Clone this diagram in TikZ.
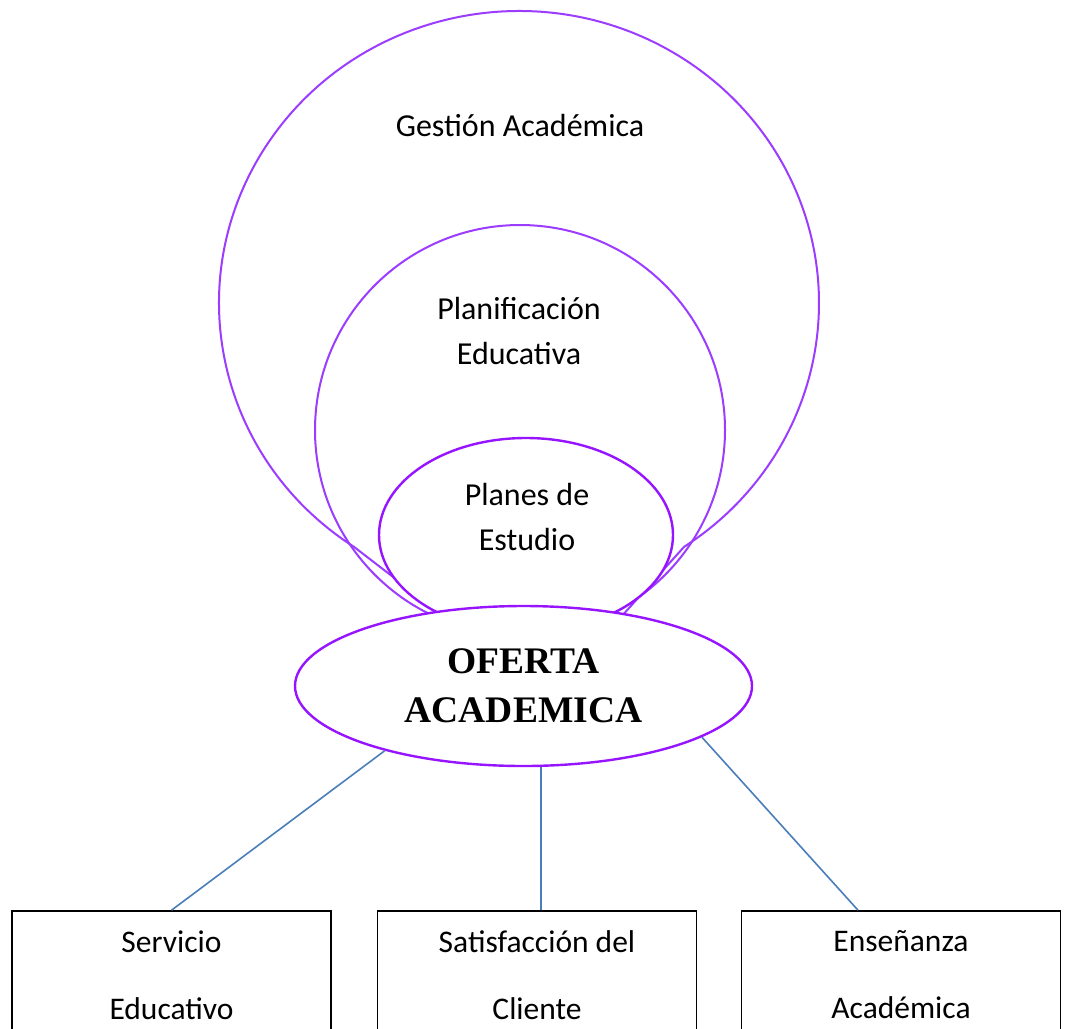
\documentclass[tikz,border=0pt]{standalone}
\usepackage{fontspec}
\setmainfont{Carlito}
\newfontfamily\timesfont{Liberation Serif}
\usetikzlibrary{shapes.geometric}
\definecolor{violetthin}{RGB}{155,60,255}
\definecolor{violetthick}{RGB}{150,20,255}
\definecolor{linkblue}{RGB}{74,126,187}
\tikzset{
  thinring/.style={draw=violetthin, line width=2pt},
  thickring/.style={draw=violetthick, line width=2.4pt},
  lbl/.style={font=\fontsize{32}{45}\selectfont, align=center, inner sep=0pt, anchor=base},
  leaf/.style={draw=black, line width=1.6pt, fill=white, minimum width=319pt, minimum height=128pt,
    inner sep=0pt, align=center, font=\fontsize{31.5}{67}\selectfont},
  link/.style={draw=linkblue, line width=1.6pt}
}
\begin{document}
\begin{tikzpicture}[x=1pt,y=-1pt]
\useasboundingbox (0,0) rectangle (1065,1028);
\clip (0,0) rectangle (1065,1028);
\fill[white] (0,0) rectangle (1065,1028);
% outer callout (Gestion Academica)
\draw[thinring] (519,303) ++(123.4:300 and 292) arc[start angle=123.4, end angle=416.6, x radius=300, y radius=292] -- (549,697) -- cycle;
% middle circle (Planificacion Educativa)
\draw[thinring] (520,430) circle[radius=205];
% Planes de Estudio ellipse
\node[thickring, fill=white, ellipse, minimum width=294pt, minimum height=194pt, inner sep=0pt] (planes) at (526,535) {};
% central ellipse
\node[thickring, fill=white, ellipse, minimum width=457pt, minimum height=160pt, inner sep=0pt,
  align=center, font=\timesfont\bfseries\fontsize{37.5}{49}\selectfont] (oferta) at (523.5,686) {OFERTA\\ACADEMICA};
% labels (anchor = baseline of the last line)
\node[lbl] (gestion) at (520,136) {Gestión Académica};
\node[lbl] (planif) at (519,364) {Planificación\\Educativa};
\node[lbl] (planestxt) at (527,550) {Planes de\\Estudio};
% leaf boxes (top edge at y = 911, running past the lower edge)
\node[leaf] (b1) at (171.5,975) {Servicio\\Educativo};
\node[leaf] (b2) at (537,975) {Satisfacción del\\Cliente};
\node[leaf] (b3) at (901,975) {Enseñanza\\Académica};
% connectors
\draw[link] (oferta.205) -- (b1.north);
\draw[link] (oferta.282) -- (oferta.282 |- b2.north);
\draw[link] (oferta.344) -- ([xshift=-43pt]b3.north);
\end{tikzpicture}
\end{document}
